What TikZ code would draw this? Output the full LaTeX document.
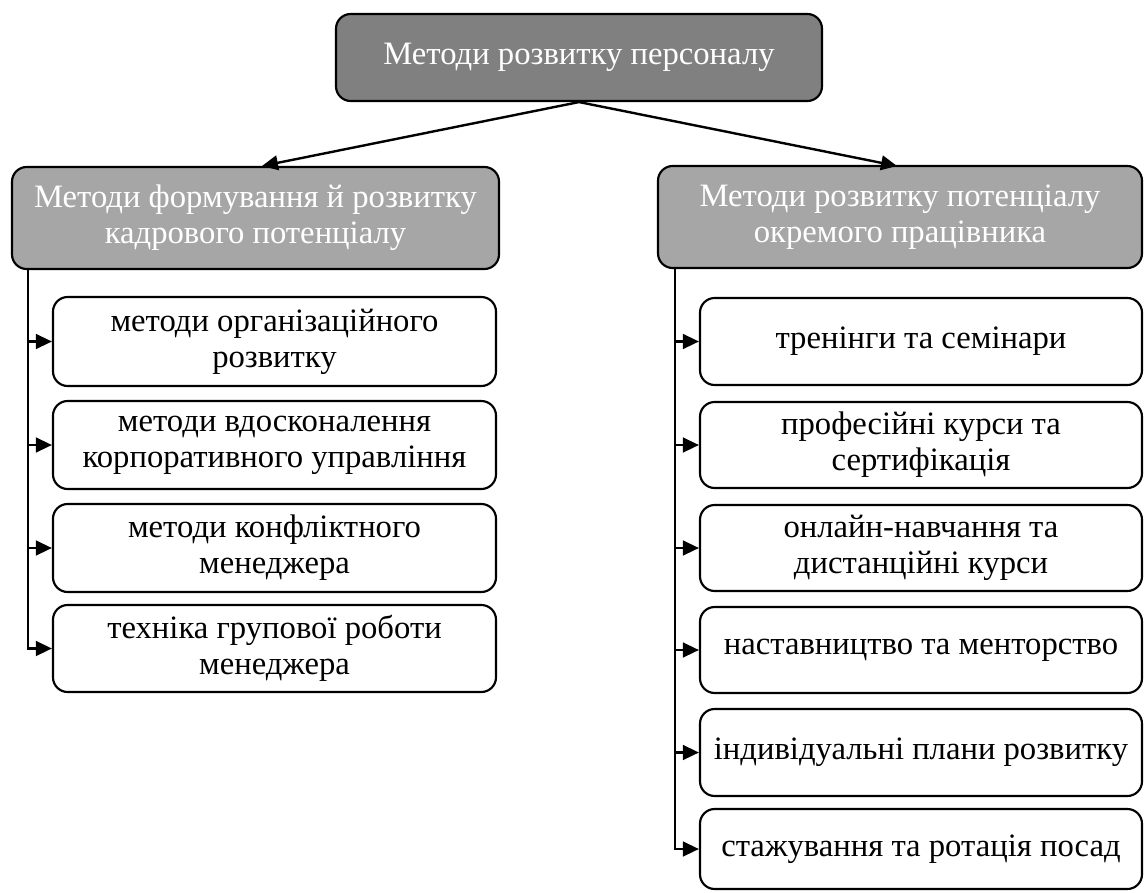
\documentclass[tikz,border=0pt]{standalone}
\usepackage{fontspec}
\setmainfont{Liberation Serif}
\usetikzlibrary{arrows.meta}
\tikzset{
  base/.style={draw=black, line width=1.6pt, rounded corners=11pt, align=center,
    inner sep=1pt, font=\fontsize{24.5pt}{27pt}\selectfont},
  topbox/.style={base, fill=gray50, text=white},
  grpbox/.style={base, fill=gray65, text=white},
  itembox/.style={base, fill=white, text=black},
  arr/.style={line width=1.8pt, -{Triangle[length=12pt, width=11pt]}},
  bus/.style={line width=1.8pt, -{Triangle[length=12pt, width=11pt]}},
}
\definecolor{gray50}{HTML}{808080}
\definecolor{gray65}{HTML}{A6A6A6}
\begin{document}
\begin{tikzpicture}[x=0.75pt, y=-0.75pt]
\useasboundingbox (0,0) rectangle (1144,892);
% top
\node[topbox, minimum width={486*0.75pt}, minimum height={87*0.75pt}] (top) at (579,57.5) {Методи розвитку персоналу};
% groups
\node[grpbox, minimum width={487*0.75pt}, minimum height={102*0.75pt}] (lg) at (255.5,218) {Методи формування й розвитку\\кадрового потенціалу};
\node[grpbox, minimum width={484*0.75pt}, minimum height={102*0.75pt}] (rg) at (900,217) {Методи розвитку потенціалу\\окремого працівника};
% left items
\node[itembox, minimum width={443*0.75pt}, minimum height={89*0.75pt}] (l1) at (274.5,341.5) {методи організаційного\\розвитку};
\node[itembox, minimum width={443*0.75pt}, minimum height={88*0.75pt}] (l2) at (274.5,445) {методи вдосконалення\\корпоративного управління};
\node[itembox, minimum width={443*0.75pt}, minimum height={88*0.75pt}] (l3) at (274.5,548) {методи конфліктного\\менеджера};
\node[itembox, minimum width={443*0.75pt}, minimum height={87*0.75pt}] (l4) at (274.5,648.5) {техніка групової роботи\\менеджера};
% right items
\node[itembox, minimum width={442*0.75pt}, minimum height={87*0.75pt}] (r1) at (921,341.5) {тренінги та семінари};
\node[itembox, minimum width={442*0.75pt}, minimum height={86*0.75pt}] (r2) at (921,445) {професійні курси та\\сертифікація};
\node[itembox, minimum width={442*0.75pt}, minimum height={86*0.75pt}] (r3) at (921,548) {онлайн-навчання та\\дистанційні курси};
\node[itembox, minimum width={442*0.75pt}, minimum height={86*0.75pt}] (r4) at (921,650) {наставництво та менторство};
\node[itembox, minimum width={442*0.75pt}, minimum height={87*0.75pt}] (r5) at (921,752.5) {індивідуальні плани розвитку};
\node[itembox, minimum width={442*0.75pt}, minimum height={80*0.75pt}] (r6) at (921,849) {стажування та ротація посад};
% top arrows
\coordinate (tl) at (262,166);
\coordinate (tr) at (897,166);
\draw[arr] (top.south) -- (tl);
\draw[arr] (top.south) -- (tr);
% buses
\coordinate (lb) at (28,270);
\coordinate (rb) at (675,269);
\foreach \n in {l1,l2,l3,l4} \draw[bus] (lb) |- (\n.west);
\foreach \n in {r1,r2,r3,r4,r5,r6} \draw[bus] (rb) |- (\n.west);
\end{tikzpicture}
\end{document}
